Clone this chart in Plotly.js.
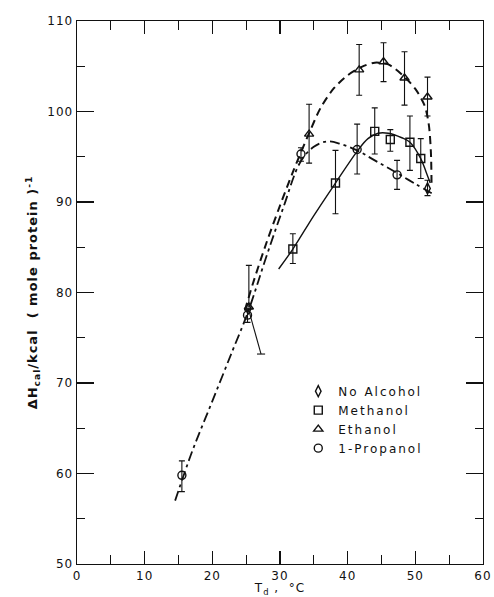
<!DOCTYPE html>
<html>
<head>
<meta charset="utf-8">
<script src="https://cdn.plot.ly/plotly-3.0.1.min.js"></script>
<style>
  body { margin: 0; padding: 0; background: #fff; }
  #chart { width: 494px; height: 597px; }
  .legendtext { letter-spacing: 2px; }
  .xtick text, .ytick text { letter-spacing: 1px; }
  .g-ytitle text, .g-xtitle text { letter-spacing: 1px; }
</style>
</head>
<body>
<div id="chart"></div>
<script>
// ---- Data ----
// No Alcohol (diamonds)
const noAlcX = [25.3, 51.8];
const noAlcY = [78.2, 91.5];
const noAlcErrPlus = [0, 0.9];
const noAlcErrMinus = [0, 0.8];

// Methanol (squares)
const methX = [31.9, 38.2, 44.0, 46.3, 49.2, 50.8];
const methY = [84.8, 92.1, 97.8, 96.9, 96.6, 94.8];
const methErrPlus = [1.7, 3.6, 2.6, 1.1, 2.9, 2.2];
const methErrMinus = [1.6, 3.4, 2.5, 1.3, 3.1, 2.2];

// Ethanol (triangles)
const ethX = [25.4, 34.3, 41.7, 45.3, 48.4, 51.8];
const ethY = [78.4, 97.5, 104.6, 105.5, 103.7, 101.6];
const ethErrPlus = [4.6, 3.3, 2.8, 2.1, 2.9, 2.2];
const ethErrMinus = [0, 3.2, 2.8, 2.2, 3.0, 2.1];
// slanted lower error bar of the 25 degC ethanol point
const ethSlantX = [25.4, 27.2, null, 26.6, 27.8];
const ethSlantY = [78.0, 73.2, null, 73.2, 73.2];

// 1-Propanol (circles)
const propX = [15.5, 25.2, 33.1, 41.4, 47.3];
const propY = [59.8, 77.5, 95.3, 95.8, 93.0];
const propErrPlus = [1.6, 0.6, 0.7, 2.8, 1.6];
const propErrMinus = [1.8, 0.8, 0.8, 2.7, 1.6];

// Fitted curves
const ethCurveX = [24.8, 26, 28, 30, 32, 34.3, 36, 38, 40, 42, 44, 46, 48, 50, 51.4, 52.0, 52.3, 52.4];
const ethCurveY = [78.0, 81.0, 85.5, 89.6, 93.5, 97.6, 100.4, 102.6, 104.0, 104.9, 105.4, 105.2, 104.1, 102.5, 100.6, 98.5, 95.5, 91.8];

const propCurveX = [14.5, 17, 20, 23, 25.2, 28, 30.5, 33, 35, 37, 39, 41.4, 44, 47.3, 50, 52.8];
const propCurveY = [57.0, 62.4, 68.0, 73.6, 77.7, 84.0, 89.4, 94.4, 96.1, 96.7, 96.4, 95.7, 94.6, 93.2, 92.0, 90.8];

const methCurveX = [29.8, 31.9, 35, 38.2, 41.4, 43, 44.5, 46, 48, 49.2, 50.8, 51.6, 52.2];
const methCurveY = [82.6, 84.8, 88.5, 92.1, 95.6, 97.0, 97.6, 97.6, 97.1, 96.6, 94.8, 93.3, 92.1];

// Axis ticks
const xTickVals = [0, 10, 20, 30, 40, 50, 60];
const yTickVals = [50, 60, 70, 80, 90, 100, 110];

// Legend labels
const names = ["No Alcohol", "Methanol", "Ethanol", "1-Propanol"];

// ---- Traces ----
const black = "#111";
function errBar(plus, minus) {
  return { type: "data", symmetric: false, array: plus, arrayminus: minus,
           color: black, thickness: 1.1, width: 3 };
}
const mk = (sym) => ({ symbol: sym, size: 8, color: black, line: { color: black, width: 1.4 } });

const traces = [
  { x: ethCurveX, y: ethCurveY, mode: "lines", line: { shape: "spline", smoothing: 0.8, color: black, width: 2, dash: "8px,5px" }, showlegend: false, hoverinfo: "skip" },
  { x: propCurveX, y: propCurveY, mode: "lines", line: { shape: "spline", color: black, width: 1.8, dash: "10px,4px,3px,4px" }, showlegend: false, hoverinfo: "skip" },
  { x: methCurveX, y: methCurveY, mode: "lines", line: { shape: "spline", color: black, width: 1.4 }, showlegend: false, hoverinfo: "skip" },
  { x: ethSlantX, y: ethSlantY, mode: "lines", line: { color: black, width: 1.1 }, showlegend: false, hoverinfo: "skip", connectgaps: false },
  { x: noAlcX, y: noAlcY, name: names[0], mode: "markers", marker: mk("diamond-tall-open"), error_y: errBar(noAlcErrPlus, noAlcErrMinus) },
  { x: methX, y: methY, name: names[1], mode: "markers", marker: mk("square-open"), error_y: errBar(methErrPlus, methErrMinus) },
  { x: ethX, y: ethY, name: names[2], mode: "markers", marker: mk("triangle-up-open"), error_y: errBar(ethErrPlus, ethErrMinus) },
  { x: propX, y: propY, name: names[3], mode: "markers", marker: mk("circle-open"), error_y: errBar(propErrPlus, propErrMinus) }
];

const font = { family: "DejaVu Sans, Arial, sans-serif", size: 12, color: black };

const axisCommon = {
  showline: true, linecolor: black, linewidth: 1.4, mirror: "ticks",
  ticks: "inside", tickcolor: black, tickwidth: 1.2,
  showgrid: false, zeroline: false, tickfont: font
};

const layout = {
  width: 494, height: 597,
  margin: { l: 77, r: 11, t: 21, b: 33 },
  paper_bgcolor: "white", plot_bgcolor: "white",
  font: font,
  showlegend: true,
  legend: {
    x: 0.545, y: 0.345, xanchor: "left", yanchor: "top",
    bgcolor: "rgba(0,0,0,0)", borderwidth: 0,
    font: { family: font.family, size: 12, color: black },
    itemwidth: 30, tracegroupgap: 0
  },
  xaxis: Object.assign({}, axisCommon, {
    range: [0, 60], tickvals: xTickVals, ticklen: 13,
    minor: { ticks: "inside", dtick: 5, ticklen: 9, tickcolor: black, tickwidth: 1.1 },
    title: { text: "T<sub>d</sub> ,  °C", font: { family: font.family, size: 12, color: black }, standoff: 4 }
  }),
  yaxis: Object.assign({}, axisCommon, {
    range: [50, 110], tickvals: yTickVals, ticklen: 17,
    minor: { ticks: "inside", dtick: 5, ticklen: 8, tickcolor: black, tickwidth: 1.1 },
    title: { text: "<b>ΔH<sub>cal</sub>/kcal  ( mole protein )<sup>-1</sup></b>", font: { family: font.family, size: 13, color: black }, standoff: 6 }
  })
};

Plotly.newPlot("chart", traces, layout, { staticPlot: true, displayModeBar: false });
</script>
</body>
</html>
